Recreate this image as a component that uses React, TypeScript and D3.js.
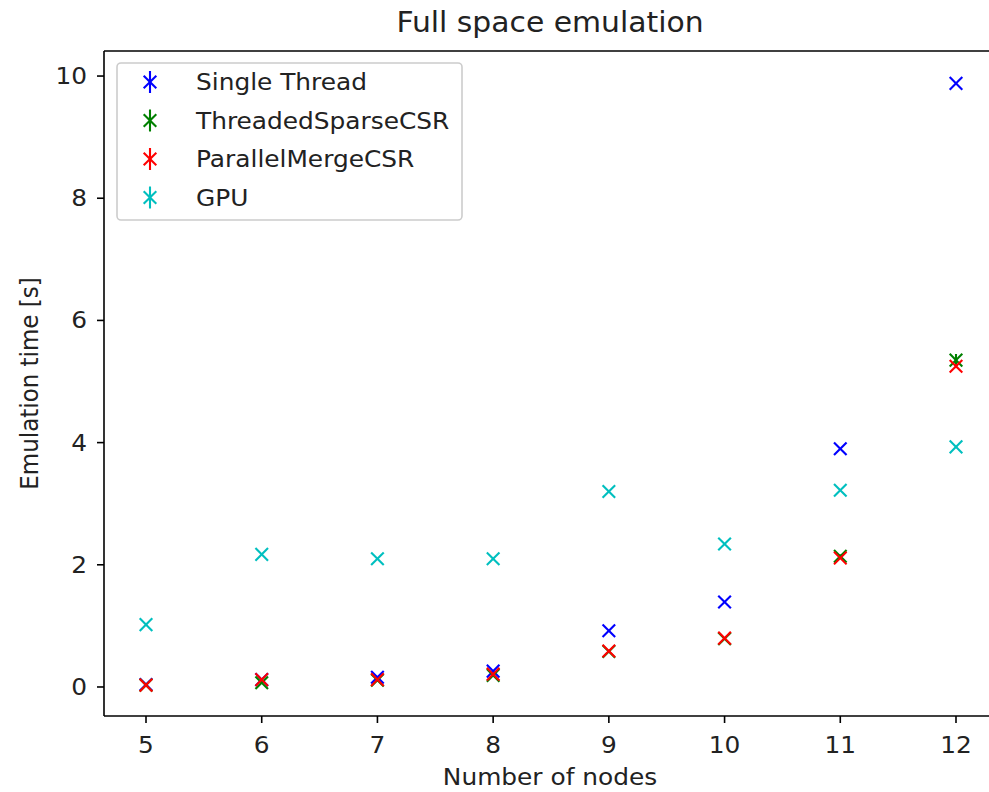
import React from "react";
import * as d3 from "d3";

const nodes = [5, 6, 7, 8, 9, 10, 11, 12];
const singleThread = [0.04, 0.12, 0.16, 0.26, 0.92, 1.39, 3.9, 9.88];
const threadedSparseCSR = [0.03, 0.07, 0.11, 0.19, 0.58, 0.79, 2.14, 5.35];
const parallelMergeCSR = [0.03, 0.12, 0.12, 0.21, 0.59, 0.8, 2.11, 5.25];
const gpu = [1.02, 2.17, 2.1, 2.1, 3.2, 2.34, 3.22, 3.93];
const singleThreadErr = [0, 0, 0, 0, 0, 0, 0, 0];
const threadedSparseCSRErr = [0, 0, 0, 0, 0, 0, 0.03, 0.1];
const parallelMergeCSRErr = [0, 0, 0, 0, 0, 0, 0, 0.03];
const gpuErr = [0, 0, 0, 0, 0, 0, 0, 0];
const seriesNames = ["Single Thread", "ThreadedSparseCSR", "ParallelMergeCSR", "GPU"];
const seriesColors = ["#0000ff", "#008000", "#ff0000", "#00bfbf"];
const xTicks = [5, 6, 7, 8, 9, 10, 11, 12];
const yTicks = [0, 2, 4, 6, 8, 10];

const W = 989;
const H = 792;
const left = 104, right = 998, top = 51, bottom = 716;
const FONT = "DejaVu Sans, sans-serif";
const SX = 1.08;

function T(props: { x: number; y: number; size: number; anchor?: string; dy?: string; rotate?: boolean; children: any }) {
  const { x, y, size, anchor = "start", dy, rotate, children } = props;
  const tr = rotate
    ? `translate(${x},${y}) rotate(-90) scale(1, ${SX})`
    : `translate(${x},${y}) scale(${SX}, 1)`;
  return (
    <text transform={tr} textAnchor={anchor as any} dy={dy} fontSize={size} fill="#222">
      {children}
    </text>
  );
}

export default function App() {
  const x = d3.scaleLinear().domain([4.637, 12.363]).range([left, right]);
  const y = d3.scaleLinear().domain([-0.475, 10.41]).range([bottom, top]);
  const values = [singleThread, threadedSparseCSR, parallelMergeCSR, gpu];
  const errs = [singleThreadErr, threadedSparseCSRErr, parallelMergeCSRErr, gpuErr];
  const ms = 6.3;
  const lw = 2.1;

  const xMark = (cx: number, cy: number, color: string, key: string) => (
    <g key={key} stroke={color} strokeWidth={lw} strokeLinecap="butt">
      <line x1={cx - ms} y1={cy - ms} x2={cx + ms} y2={cy + ms} />
      <line x1={cx - ms} y1={cy + ms} x2={cx + ms} y2={cy - ms} />
    </g>
  );

  return (
    <svg width={W} height={H} style={{ position: "absolute", left: 0, top: 0, background: "#fff" }} fontFamily={FONT}>
      <rect x={0} y={0} width={W} height={H} fill="#fff" />
      <defs>
        <clipPath id="plotclip">
          <rect x={left} y={top} width={right - left} height={bottom - top} />
        </clipPath>
      </defs>
      <g clipPath="url(#plotclip)">
        {values.map((vals, si) => (
          <g key={si}>
            {vals.map((v, i) => {
              const cx = x(nodes[i]);
              const cy = y(v);
              const e = errs[si][i];
              return (
                <g key={i}>
                  {e > 0 && (
                    <line x1={cx} x2={cx} y1={y(v - e)} y2={y(v + e)} stroke={seriesColors[si]} strokeWidth={lw} />
                  )}
                  {xMark(cx, cy, seriesColors[si], "m" + i)}
                </g>
              );
            })}
          </g>
        ))}
      </g>
      <g stroke="#000" strokeWidth={1.6} fill="none">
        <line x1={left} x2={left} y1={top} y2={bottom} />
        <line x1={left} x2={right} y1={bottom} y2={bottom} />
        <line x1={left} x2={right} y1={top} y2={top} />
        <line x1={right} x2={right} y1={top} y2={bottom} />
      </g>
      {xTicks.map((t) => (
        <g key={"xt" + t}>
          <line x1={x(t)} x2={x(t)} y1={bottom} y2={bottom + 7} stroke="#000" strokeWidth={1.6} />
          <T x={x(t)} y={bottom + 37} size={23} anchor="middle">{t}</T>
        </g>
      ))}
      {yTicks.map((t) => (
        <g key={"yt" + t}>
          <line x1={left - 7} x2={left} y1={y(t)} y2={y(t)} stroke="#000" strokeWidth={1.6} />
          <T x={left - 17} y={y(t)} size={23} anchor="end" dy="0.35em">{t}</T>
        </g>
      ))}
      <T x={(left + right) / 2 - 1} y={785} size={23} anchor="middle">Number of nodes</T>
      <T x={38} y={(top + bottom) / 2} size={23} anchor="middle" rotate>Emulation time [s]</T>
      <T x={(left + right) / 2 - 1} y={32} size={27.6} anchor="middle">Full space emulation</T>
      <g>
        <rect x={117} y={63} width={345} height={157} rx={4} fill="#fff" fillOpacity={0.8} stroke="#cccccc" strokeWidth={1.6} />
        {seriesNames.map((name, i) => {
          const cy = 82 + i * 38.5;
          const cx = 150;
          return (
            <g key={name}>
              <line x1={cx} x2={cx} y1={cy - 11} y2={cy + 11} stroke={seriesColors[i]} strokeWidth={lw} />
              {xMark(cx, cy, seriesColors[i], "l" + i)}
              <T x={196} y={cy} size={23} dy="0.35em">{name}</T>
            </g>
          );
        })}
      </g>
    </svg>
  );
}
